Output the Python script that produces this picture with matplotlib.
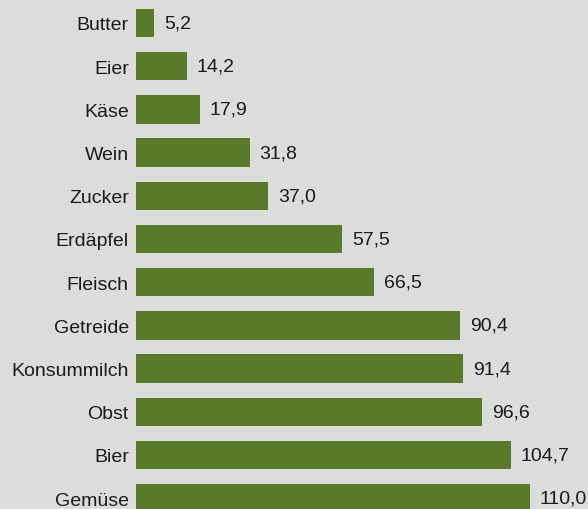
import matplotlib
matplotlib.use("Agg")
import matplotlib.pyplot as plt

products = ["Butter", "Eier", "Käse", "Wein", "Zucker", "Erdäpfel", "Fleisch",
            "Getreide", "Konsummilch", "Obst", "Bier", "Gemüse"]
values = [5.2, 14.2, 17.9, 31.8, 37.0, 57.5, 66.5, 90.4, 91.4, 96.6, 104.7, 110.0]
value_labels = ["5,2", "14,2", "17,9", "31,8", "37,0", "57,5", "66,5",
                "90,4", "91,4", "96,6", "104,7", "110,0"]

plt.rcParams["font.family"] = ["Liberation Sans", "DejaVu Sans"]

bg = "#dcdcda"
bar_color = "#5a7a2b"

fig = plt.figure(figsize=(5.88, 5.10), dpi=100, facecolor=bg)
ax = fig.add_axes([0.2308, 0, 0.7692, 1])
ax.set_facecolor(bg)

pos = list(range(len(products)))
ax.barh(pos, values, height=0.66, color=bar_color, edgecolor="none")

for p, v, lab in zip(pos, values, value_labels):
    ax.annotate(lab, (v, p), xytext=(10, 0), textcoords="offset pixels",
                va="center", ha="left", fontsize=14, color="#1a1a1a")

ax.set_xlim(0, 126.2)
ax.set_ylim(11.25, -0.555)
ax.set_yticks(pos)
ax.set_yticklabels(products, fontsize=14, color="#1a1a1a")
ax.tick_params(axis="y", length=0, pad=5)
ax.set_xticks([])
for s in ax.spines.values():
    s.set_visible(False)

fig.savefig("out.png", dpi=100, facecolor=bg)
